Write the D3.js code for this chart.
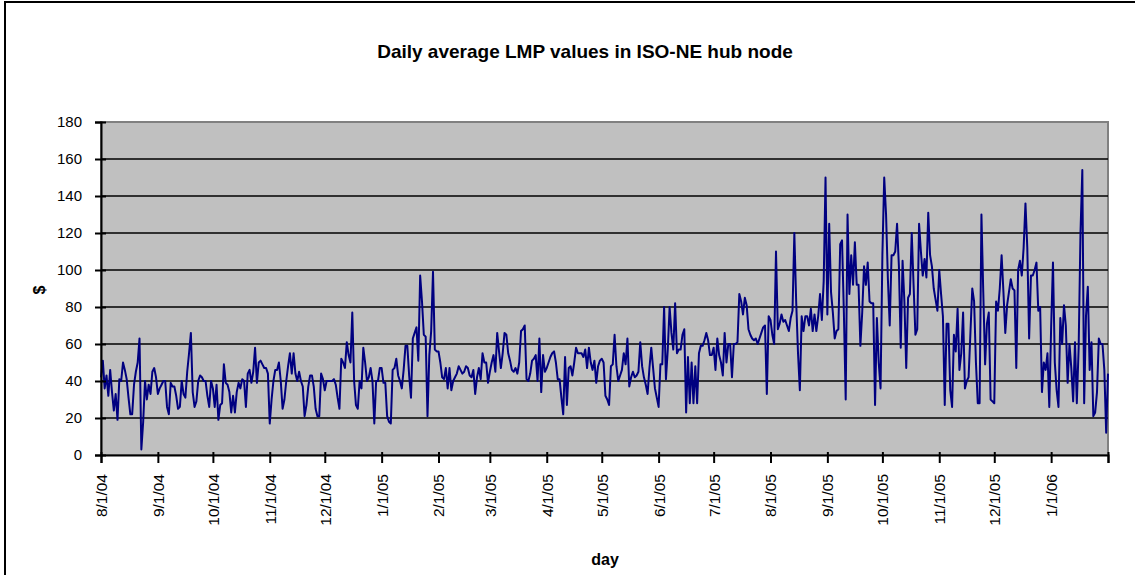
<!DOCTYPE html>
<html>
<head>
<meta charset="utf-8">
<script src="https://cdn.jsdelivr.net/npm/d3@7"></script>
<style>
  body { margin: 0; background: #fff; }
  text { font-family: Arial, "Liberation Sans", sans-serif; }
</style>
</head>
<body>
<script>
// daily average LMP, one array per month
var aug04 = [42,51,36,43,32,46,34,24,33,19,41,40,50,46,41,31,22,22,38,45,50,63,3,18,40,30,38,33,45,47,42];
var sep04 = [33,36,38,40,40,26,22,39,37,37,32,25,26,40,33,31,45,55,66,34,26,29,40,43,42,40,40,32,26,40];
var oct04 = [36,26,38,19,27,28,49,39,38,34,23,32,23,34,39,36,41,40,26,44,46,39,45,58,39,50,51,49,47,47,44];
var nov04 = [17,30,40,46,46,50,40,25,30,40,48,55,44,55,44,40,45,40,37,21,27,37,43,43,37,25,21,21,44,41];
var dec04 = [35,40,40,40,40,41,38,31,25,52,50,47,61,54,50,77,40,27,25,40,36,58,50,40,42,47,40,17,40,40,47];
var jan05 = [47,39,39,21,18,17,46,47,52,43,40,36,46,59,59,43,31,63,66,69,51,97,83,65,64,21,54,67,99,57,56];
var feb05 = [56,50,42,41,47,36,47,35,40,42,44,48,46,44,45,48,47,43,42,46,33,42,47,41,55,50,50,39];
var mar05 = [45,50,54,45,66,56,47,55,66,65,55,51,46,45,47,44,50,67,68,70,41,40,44,51,52,54,40,63,34,54,45];
var apr05 = [47,50,53,55,56,50,41,41,31,22,53,27,47,48,43,50,58,55,55,55,53,57,47,58,50,46,51,39,48,51];
var may05 = [52,50,32,30,27,48,49,65,48,40,43,46,55,49,63,37,42,45,42,43,45,61,48,42,38,33,47,58,47,36,31];
var jun05 = [26,49,49,80,41,57,80,66,57,82,55,57,57,65,68,23,53,28,50,28,48,28,55,59,59,62,66,62,54,54];
var jul05 = [58,46,63,54,50,43,66,50,60,60,42,60,60,61,87,83,76,85,81,68,65,63,62,63,60,63,66,69,70,33,75];
var aug05 = [73,65,60,110,68,71,76,72,73,70,67,74,78,120,83,55,35,75,67,75,75,70,79,67,76,67,75,87,73,94,150];
var sep05 = [76,125,88,77,63,67,68,114,116,77,30,130,87,108,92,115,92,92,59,77,102,92,104,83,82,82,27,74,50,36];
var oct05 = [108,150,130,95,70,108,108,110,125,102,58,105,83,47,85,87,120,92,65,68,125,110,97,106,96,131,108,102,90,84,78];
var nov05 = [100,87,75,27,71,71,35,26,65,56,79,46,55,77,36,40,42,66,90,83,50,28,28,130,88,49,71,77,30,29];
var dec05 = [28,83,78,90,108,88,66,81,88,95,90,89,47,100,105,97,112,136,112,63,97,97,100,104,78,80,34,50,46,55,26];
var jan06 = [69,104,50,35,26,74,60,81,70,39,60,47,29,61,28,58,120,154,28,75,91,46,61,21,23,34,63,60,60,46,12];
var feb06 = [44];

var yTicks = [0, 20, 40, 60, 80, 100, 120, 140, 160, 180];

var firstDay = new Date(2004, 7, 1);
var lastDay = new Date(2006, 1, 1);

var values = [].concat(aug04, sep04, oct04, nov04, dec04, jan05, feb05, mar05, apr05,
  may05, jun05, jul05, aug05, sep05, oct05, nov05, dec05, jan06, feb06);
var data = values.map(function (v, i) {
  return { date: d3.timeDay.offset(firstDay, i), value: v };
});

var W = 1135, H = 575;
var plotLeft = 101, plotRight = 1108, plotTop = 122, plotBottom = 455;

var svg = d3.select("body").append("svg")
  .attr("width", W)
  .attr("height", H);

// chart frame (only top and left visible in the picture)
svg.append("rect")
  .attr("x", 5).attr("y", 2)
  .attr("width", W + 20).attr("height", H + 20)
  .attr("fill", "#fff")
  .attr("stroke", "#000")
  .attr("stroke-width", 2);

var x = d3.scaleTime().domain([firstDay, lastDay]).range([plotLeft, plotRight]);
var y = d3.scaleLinear().domain([0, 180]).range([plotBottom, plotTop]);

// plot area
svg.append("rect")
  .attr("x", plotLeft).attr("y", plotTop)
  .attr("width", plotRight - plotLeft).attr("height", plotBottom - plotTop)
  .attr("fill", "#c0c0c0")
  .attr("stroke", "#808080")
  .attr("stroke-width", 2);

// gridlines
svg.append("g")
  .selectAll("line")
  .data(yTicks.filter(function (t) { return t > 0 && t < 180; }))
  .enter()
  .append("line")
  .attr("x1", plotLeft).attr("x2", plotRight)
  .attr("y1", function (d) { return y(d); })
  .attr("y2", function (d) { return y(d); })
  .attr("stroke", "#000")
  .attr("stroke-width", 1.5);

// the series
var line = d3.line()
  .x(function (d) { return x(d.date); })
  .y(function (d) { return y(d.value); });

svg.append("path")
  .datum(data)
  .attr("d", line)
  .attr("fill", "none")
  .attr("stroke", "#000080")
  .attr("stroke-width", 2)
  .attr("stroke-linejoin", "round");

// y axis
var yAxis = svg.append("g")
  .attr("transform", "translate(" + plotLeft + ",0)")
  .call(d3.axisLeft(y).tickValues(yTicks).tickSize(6).tickPadding(13));
yAxis.select(".domain").attr("stroke-width", 2);
yAxis.selectAll(".tick line").attr("stroke-width", 2).attr("x2", -6).attr("x1", 5);
yAxis.selectAll(".tick text")
  .style("font-size", "15px")
  .attr("fill", "#000");

// x axis
var months = d3.timeMonth.range(firstDay, d3.timeDay.offset(lastDay, 1));
var fmt = d3.timeFormat("%-m/%-d/%y");
var xAxis = svg.append("g")
  .attr("transform", "translate(0," + plotBottom + ")")
  .call(d3.axisBottom(x).tickValues(months).tickSize(8)
    .tickFormat(function (d) { return +d === +lastDay ? "" : fmt(d); }));
xAxis.select(".domain").attr("stroke-width", 2);
xAxis.selectAll(".tick line").attr("stroke-width", 2).attr("y1", -3);
xAxis.selectAll(".tick text")
  .style("font-size", "15.5px")
  .attr("fill", "#000")
  .attr("text-anchor", "end")
  .attr("transform", "rotate(-90)")
  .attr("x", -19)
  .attr("y", 0)
  .attr("dy", "0.35em");

// titles
svg.append("text")
  .attr("x", 585).attr("y", 58)
  .attr("text-anchor", "middle")
  .style("font-size", "19px")
  .style("font-weight", "bold")
  .text("Daily average LMP values in ISO-NE hub node");

svg.append("text")
  .attr("transform", "translate(39,290) rotate(-90)")
  .attr("text-anchor", "middle")
  .attr("dy", "0.35em")
  .style("font-size", "16px")
  .style("font-weight", "bold")
  .text("$");

svg.append("text")
  .attr("x", 605).attr("y", 565)
  .attr("text-anchor", "middle")
  .style("font-size", "16px")
  .style("font-weight", "bold")
  .text("day");
</script>
</body>
</html>
